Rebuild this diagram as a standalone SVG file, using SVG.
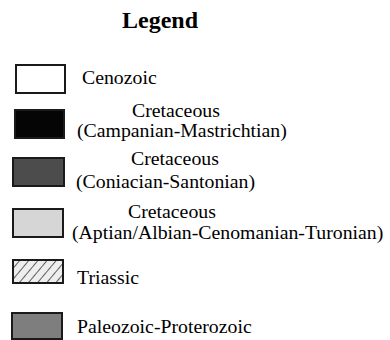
<svg xmlns="http://www.w3.org/2000/svg" width="390" height="340" viewBox="0 0 390 340">
<defs>
<pattern id="hatch" patternUnits="userSpaceOnUse" width="7" height="7" patternTransform="rotate(40)">
<rect width="7" height="7" fill="#eeeeee"/>
<line x1="0" y1="0" x2="0" y2="7" stroke="#3a3a3a" stroke-width="1.6"/>
</pattern>
</defs>
<style>
text{font-family:"Liberation Serif","Times New Roman",serif;font-size:19.8px;fill:#000}
.title{font-size:24px;font-weight:bold}
.sw{stroke:#1a1a1a;stroke-width:2}
</style>
<rect width="390" height="340" fill="#fff"/>
<text class="title" x="122" y="28">Legend</text>
<g id="cenozoic">
<rect class="sw" x="16" y="65" width="49" height="28" fill="#fff"/>
<text x="82" y="84">Cenozoic</text>
</g>
<g id="campanian">
<rect class="sw" x="15" y="110" width="49" height="28" fill="#050505"/>
<text x="132" y="117">Cretaceous</text>
<text x="77" y="137">(Campanian-Mastrichtian)</text>
</g>
<g id="coniacian">
<rect class="sw" x="13" y="158" width="51" height="28" fill="#4c4c4c"/>
<text x="131" y="165">Cretaceous</text>
<text x="76" y="188">(Coniacian-Santonian)</text>
</g>
<g id="aptian">
<rect class="sw" x="13" y="209" width="50" height="28" fill="#d6d6d6"/>
<text x="128" y="218">Cretaceous</text>
<text x="72" y="239">(Aptian/Albian-Cenomanian-Turonian)</text>
</g>
<g id="triassic">
<rect class="sw" x="13" y="260" width="50" height="23" fill="url(#hatch)"/>
<text x="77" y="284">Triassic</text>
</g>
<g id="paleozoic">
<rect class="sw" x="12" y="313" width="50" height="26" fill="#7e7e7e"/>
<text x="77" y="333">Paleozoic-Proterozoic</text>
</g>
</svg>
